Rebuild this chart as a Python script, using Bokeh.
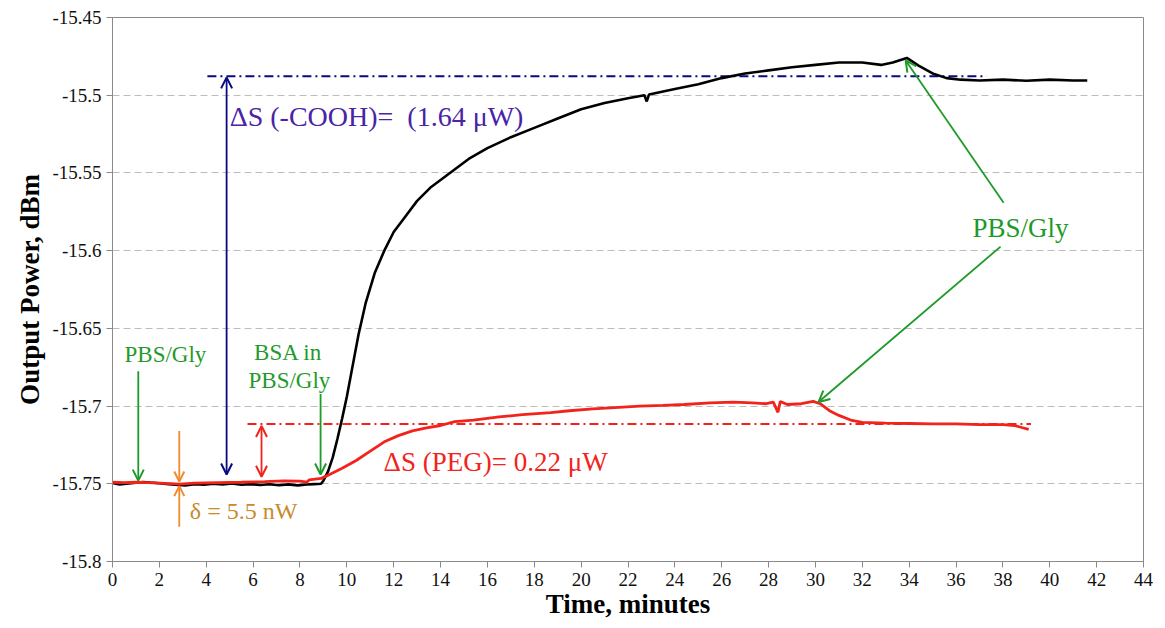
from bokeh.plotting import figure
from bokeh.models import (FixedTicker, Arrow, OpenHead, Range1d, Label)
from bokeh.embed import file_html
from bokeh.resources import INLINE

# ---- data ----
cooh_t = [0, 0.3, 0.6, 1.0, 1.3, 1.6, 2.0, 2.4, 2.8, 3.1, 3.5, 3.9, 4.3, 4.7, 5.1, 5.5, 5.9, 6.3, 6.7, 7.1, 7.5, 7.9, 8.3, 8.6, 8.9,
          9.0, 9.2, 9.4, 9.6, 9.8, 10.0, 10.2, 10.5, 10.8, 11.2, 11.6, 12.0, 12.5, 13.0, 13.6, 14.4, 15.2, 16.0, 17.0, 18.0, 19.0,
          20.0, 21.0, 22.0, 22.7, 22.8, 22.9, 24.0, 25.0, 26.0, 27.0, 28.0, 29.0, 30.0, 31.0, 32.0, 32.8, 33.3, 33.9,
          34.4, 35.0, 35.6, 36.2, 37.0, 38.0, 39.0, 40.0, 41.0, 41.6]
cooh_v = [-15.7495, -15.7505, -15.7500, -15.7493, -15.7488, -15.7492, -15.7497, -15.7503, -15.7507, -15.7510, -15.7502,
          -15.7506, -15.7500, -15.7504, -15.7498, -15.7506, -15.7502, -15.7508, -15.7503, -15.7509, -15.7504, -15.7510,
          -15.7505, -15.7502, -15.7500,
          -15.748, -15.742, -15.733, -15.721, -15.708, -15.694, -15.678, -15.654, -15.634, -15.614, -15.600, -15.588,
          -15.578, -15.568, -15.559, -15.550, -15.541, -15.534, -15.527, -15.521, -15.515, -15.509, -15.505, -15.502,
          -15.500, -15.504, -15.4995, -15.496, -15.493, -15.489, -15.486, -15.484, -15.482, -15.4805, -15.479, -15.479,
          -15.4805, -15.479, -15.476, -15.481, -15.486, -15.489, -15.490, -15.4905, -15.4900, -15.4907, -15.4900,
          -15.4905, -15.4905]

peg_t = [0, 0.5, 1.0, 1.5, 2.0, 2.5, 2.85, 3.5, 4.5, 5.5, 6.5, 7.3, 8.0, 8.3, 8.4, 8.9, 9.2, 9.8, 10.4, 11.0, 11.6,
         12.2, 12.8, 13.4, 14.0, 14.6, 15.4, 16.5, 17.5, 18.7, 19.5, 20.5, 21.6, 22.5, 23.5, 24.4, 25.5, 26.5, 27.3,
         27.9, 28.2, 28.4, 28.5, 28.8, 29.4, 29.9, 30.2, 30.6, 31.0, 31.5, 32.0, 33.0, 34.0, 35.0, 36.0, 37.0,
         38.0, 38.5, 38.8, 39.1]
peg_v = [-15.7490, -15.7492, -15.7490, -15.7493, -15.7496, -15.7499, -15.7502, -15.7496, -15.7493, -15.7490, -15.7486,
         -15.7481, -15.7483, -15.7489, -15.7475, -15.7465, -15.7445, -15.7400, -15.7350, -15.7290, -15.7230,
         -15.7190, -15.7160, -15.7140, -15.7125, -15.7100, -15.7090, -15.7070, -15.7055, -15.7042, -15.7030,
         -15.7018, -15.7008, -15.7000, -15.6995, -15.6990, -15.6980, -15.6975, -15.6980, -15.6985, -15.6975,
         -15.7040, -15.6970, -15.6990, -15.6985, -15.6970, -15.6985, -15.7030, -15.7060, -15.7090, -15.7105,
         -15.7110, -15.7112, -15.7115, -15.7115, -15.7120, -15.7120, -15.7125, -15.7138, -15.7150]

x_ticks = list(range(0, 46, 2))
y_ticks = [-15.8, -15.75, -15.7, -15.65, -15.6, -15.55, -15.5, -15.45]
y_tick_labels = ["-15.8", "-15.75", "-15.7", "-15.65", "-15.6", "-15.55", "-15.5", "-15.45"]

cooh_level = -15.4878
peg_level = -15.7115

FONT = "Liberation Serif"
GREEN = "#1f9a2a"
NAVY = "#0a0a80"
RED = "#f2231b"
ORANGE = "#f28a2e"

p = figure(width=1158, height=621, output_backend="svg", toolbar_location=None,
           x_range=Range1d(0, 44), y_range=Range1d(-15.8, -15.45),
           min_border_left=112, min_border_right=15, min_border_top=17, min_border_bottom=58)
p.background_fill_color = "white"
p.outline_line_color = "#8a8a8a"
p.outline_line_width = 1

p.xaxis.ticker = FixedTicker(ticks=x_ticks)
p.yaxis.ticker = FixedTicker(ticks=y_ticks)
p.yaxis.major_label_overrides = {t: l for t, l in zip(y_ticks, y_tick_labels)}
for ax in (p.xaxis[0], p.yaxis[0]):
    ax.axis_line_color = "#8a8a8a"
    ax.major_tick_line_color = "#8a8a8a"
    ax.minor_tick_line_color = None
    ax.major_tick_in = 0
    ax.major_tick_out = 6
    ax.major_label_text_font = FONT
    ax.major_label_text_font_size = "19px"
    ax.major_label_text_color = "#111111"
    ax.axis_label_text_font = FONT
    ax.axis_label_text_font_style = "bold"
    ax.axis_label_text_font_size = "27px"
    ax.axis_label_text_color = "#000000"
p.xaxis.axis_label = "Time, minutes"
p.yaxis.axis_label = "Output Power, dBm"
p.xaxis.axis_label_standoff = 0
p.yaxis.axis_label_standoff = 4
p.xaxis.major_label_standoff = 5

p.xgrid.grid_line_color = None
p.ygrid.grid_line_color = "#bdbdbd"
p.ygrid.grid_line_dash = "7 4"
p.ygrid.grid_line_width = 1

# reference levels
p.line(x=[4.05, 37.3], y=[cooh_level, cooh_level], line_color=NAVY, line_width=2, line_dash="9 4 2 4")
p.line(x=[5.76, 39.2], y=[peg_level, peg_level], line_color=RED, line_width=2, line_dash="9 4 2 4")

# data curves
p.line(x=cooh_t, y=cooh_v, line_color="black", line_width=2.6)
p.line(x=peg_t, y=peg_v, line_color=RED, line_width=2.8)

def arrow(x0, y0, x1, y1, color, both=False, size=11):
    p.add_layout(Arrow(x_start=x0, y_start=y0, x_end=x1, y_end=y1,
                       line_color=color, line_width=1.8,
                       end=OpenHead(size=size, line_color=color, line_width=2),
                       start=OpenHead(size=size, line_color=color, line_width=2) if both else None))

# green arrows
arrow(1.1, -15.6776, 1.1, -15.748, GREEN)
arrow(8.88, -15.6923, 8.88, -15.744, GREEN)
arrow(38.03, -15.5692, 33.85, -15.4776, GREEN)
arrow(37.9, -15.5974, 30.13, -15.6974, GREEN)
# orange arrows
arrow(2.85, -15.716, 2.85, -15.7485, ORANGE, size=10)
arrow(2.85, -15.7776, 2.85, -15.7515, ORANGE, size=10)
# navy double arrow
arrow(4.87, -15.744, 4.87, -15.4885, NAVY, both=True)
# red double arrow
arrow(6.36, -15.7455, 6.36, -15.7128, RED, both=True)

def label(x, y, text, color, align="left", size="21px"):
    p.add_layout(Label(x=x, y=y, text=text, text_color=color, text_font=FONT,
                       text_font_size=size, text_align=align, text_baseline="middle"))

label(2.26, -15.6667, "PBS/Gly", GREEN, align="center", size="23px")
label(7.5, -15.6654, "BSA in", GREEN, align="center", size="23px")
label(7.55, -15.6833, "PBS/Gly", GREEN, align="center", size="23px")
label(38.75, -15.5853, "PBS/Gly", GREEN, align="center", size="27px")
label(3.3, -15.7673, "\u03b4 = 5.5 nW", "#c98a2c", size="24px")
label(5.0, -15.514, "\u0394S (-COOH)=\u00a0 (1.64 \u03bcW)", "#4a23a6", size="28px")
label(11.57, -15.7359, "\u0394S (PEG)= 0.22 \u03bcW", RED, size="27px")

open("out.html", "w").write(file_html(p, INLINE))
